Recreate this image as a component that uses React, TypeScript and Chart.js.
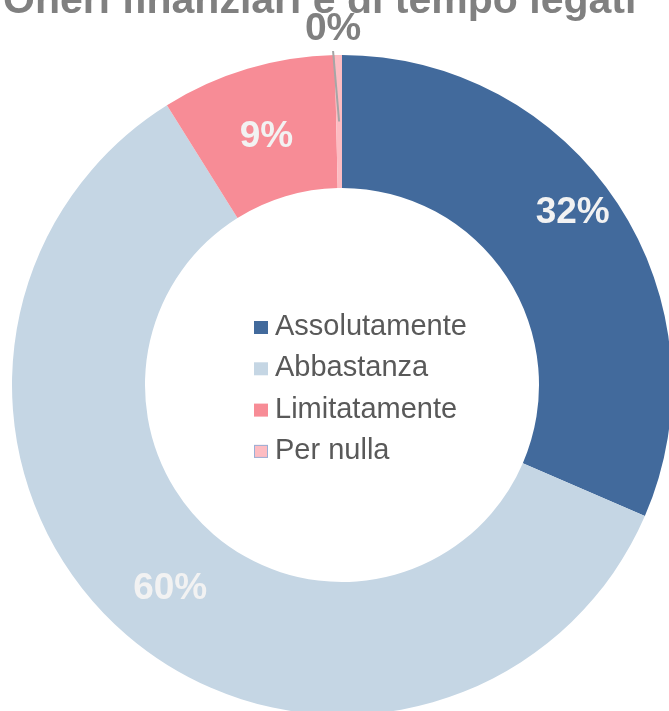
import React, { useEffect, useRef } from "react";
import { Chart, registerables } from "chart.js";

Chart.register(...registerables);

const titleText = "Oneri finanziari e di tempo legati";
const categories = ["Assolutamente", "Abbastanza", "Limitatamente", "Per nulla"];
const values = [31.5, 59.6, 8.55, 0.35];
const percentLabels = ["32%", "60%", "9%", "0%"];
const colors = ["#426A9C", "#C5D6E4", "#F78C96", "#FDBCC2"];

const labelPlugin = {
  id: "customLabels",
  afterDatasetsDraw(chart: any) {
    const ctx = chart.ctx;
    const meta = chart.getDatasetMeta(0);
    ctx.save();
    // title (clipped at the top like the reference)
    ctx.font = "bold 41px 'Liberation Sans', Arial, sans-serif";
    ctx.fillStyle = "#808080";
    ctx.textAlign = "left";
    ctx.textBaseline = "alphabetic";
    ctx.fillText(titleText, 3, 13);

    meta.data.forEach((arc: any, i: number) => {
      const p = arc.getProps(["x", "y", "startAngle", "endAngle", "innerRadius", "outerRadius"], true);
      const mid = (p.startAngle + p.endAngle) / 2;
      ctx.textAlign = "center";
      ctx.textBaseline = "middle";
      const span = p.endAngle - p.startAngle;
      if (span < 0.05) {
        ctx.font = "bold 39px 'Liberation Sans', Arial, sans-serif";
        const rMid = (p.innerRadius + p.outerRadius) / 2;
        const lx = p.x + Math.cos(mid) * (p.outerRadius + 28) - 5;
        const ly = p.y + Math.sin(mid) * (p.outerRadius + 28);
        ctx.strokeStyle = "#A6A6A6";
        ctx.lineWidth = 2;
        ctx.beginPath();
        ctx.moveTo(lx, p.y - p.outerRadius - 4);
        ctx.lineTo(p.x + Math.cos(mid) * rMid, p.y + Math.sin(mid) * rMid);
        ctx.stroke();
        ctx.fillStyle = "#808080";
        ctx.fillText(percentLabels[i], lx, ly + 2);
      } else {
        ctx.font = "bold 37px 'Liberation Sans', Arial, sans-serif";
        let a = mid;
        let r = (p.innerRadius + p.outerRadius) / 2;
        if (i === 0) {
          a = mid - 0.07;
          r = p.outerRadius - 40;
        }
        ctx.fillStyle = "#F2F2F2";
        ctx.fillText(percentLabels[i], p.x + Math.cos(a) * r, p.y + Math.sin(a) * r + 4);
      }
    });

    // legend in the centre
    const cx = meta.data[0].x;
    const cy = meta.data[0].y;
    ctx.font = "29px 'Liberation Sans', Arial, sans-serif";
    ctx.textAlign = "left";
    ctx.textBaseline = "alphabetic";
    categories.forEach((c, i) => {
      const base = cy - 50 + i * 41.3;
      const sx = cx - 88;
      ctx.fillStyle = colors[i];
      ctx.fillRect(sx, base - 14, 14, 13);
      if (i === 3) {
        ctx.strokeStyle = "#9AAFD6";
        ctx.lineWidth = 1;
        ctx.strokeRect(sx + 0.5, base - 13.5, 13, 12);
      }
      ctx.fillStyle = "#595959";
      ctx.fillText(c, cx - 67, base);
    });
    ctx.restore();
  },
};

export default function App() {
  const ref = useRef<HTMLCanvasElement | null>(null);
  useEffect(() => {
    document.body.style.overflow = "hidden";
    const chart = new Chart(ref.current as HTMLCanvasElement, {
      type: "doughnut",
      data: {
        labels: categories,
        datasets: [
          {
            data: values,
            backgroundColor: colors,
            borderWidth: 0,
            hoverOffset: 0,
          },
        ],
      },
      options: {
        responsive: false,
        animation: false,
        cutout: "59.7%",
        layout: { padding: { left: 12, right: 12, top: 55, bottom: 15 } },
        plugins: {
          legend: { display: false },
          title: { display: false },
          tooltip: { enabled: false },
        },
      },
      plugins: [labelPlugin],
    });
    return () => chart.destroy();
  }, []);
  return (
    <div style={{ position: "absolute", left: 0, top: 0, width: 684, height: 730 }}>
      <canvas ref={ref} width={684} height={730} />
    </div>
  );
}
